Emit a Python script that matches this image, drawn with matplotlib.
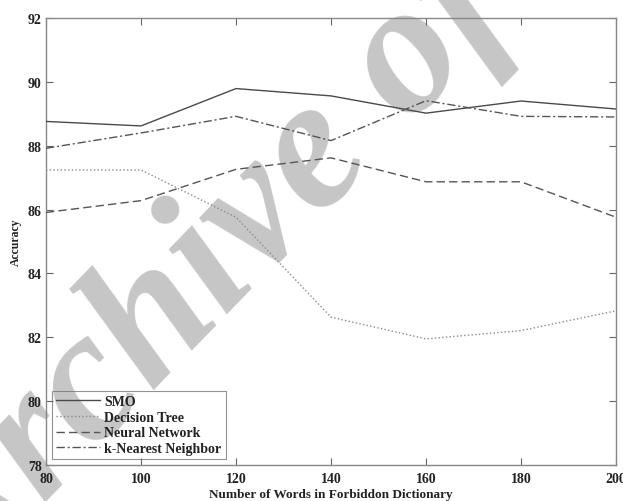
import matplotlib
matplotlib.use('Agg')
import matplotlib.pyplot as plt

words = [80, 100, 120, 140, 160, 180, 200]

smo = [88.76, 88.62, 89.79, 89.56, 89.02, 89.40, 89.15]
decision_tree = [87.24, 87.24, 85.76, 82.63, 81.95, 82.21, 82.83]
neural_net = [85.91, 86.28, 87.26, 87.62, 86.87, 86.87, 85.76]
knn = [87.92, 88.40, 88.92, 88.16, 89.41, 88.92, 88.90]

x_ticks = [80, 100, 120, 140, 160, 180, 200]
y_ticks = [78, 80, 82, 84, 86, 88, 90, 92]

plt.rcParams['font.family'] = ['Liberation Serif', 'DejaVu Serif']
plt.rcParams['font.weight'] = 'bold'

fig = plt.figure(figsize=(6.23, 5.02), dpi=100)
ax = fig.add_axes([46/623, 36/502, 570/623, 447/502])

# watermark, sits under everything
ax.text(0.533, 0.703, 'Archive of SID', transform=fig.transFigure, rotation=46,
        fontsize=135, fontstyle='italic', fontweight='bold', color='#c6c6c6',
        ha='center', va='center', zorder=0.5, clip_on=False)

ax.plot(words, smo, color='#4a4a4a', linestyle='-', linewidth=1.0, label='SMO', zorder=3)
ax.plot(words, decision_tree, color='#8a8a8a', linestyle=':', linewidth=1.0, label='Decision Tree', zorder=3)
ax.plot(words, neural_net, color='#555555', linestyle=(0, (6, 3)), linewidth=1.0, label='Neural Network', zorder=3)
ax.plot(words, knn, color='#555555', linestyle=(0, (6, 2, 1.5, 2)), linewidth=1.0, label='k-Nearest Neighbor', zorder=3)

ax.set_xlim(80, 200)
ax.set_ylim(78, 92)
ax.set_xticks(x_ticks)
ax.set_yticks(y_ticks)
ax.tick_params(direction='in', length=5, width=0.8, color='#666666', top=True, right=True,
               labelsize=10, labelcolor='#222222', pad=3)
ax.tick_params(axis='x', pad=5)
for s in ax.spines.values():
    s.set_color('#888888')
    s.set_linewidth(1.0)
ax.patch.set_alpha(0)

ax.set_xlabel('Number of Words in Forbiddon Dictionary', fontsize=9.5, fontweight='bold',
              color='#222222', labelpad=2)
ax.set_ylabel('Accuracy', fontsize=8.5, fontweight='bold', color='#222222', labelpad=4)

leg = ax.legend(loc='lower left', fontsize=10, frameon=True, fancybox=False,
                borderpad=0.3, labelspacing=0.2, handlelength=3.2, handletextpad=0.3,
                borderaxespad=0.4)
leg.get_frame().set_facecolor('none')
leg.get_frame().set_edgecolor('#777777')
leg.get_frame().set_linewidth(0.8)
for t in leg.get_texts():
    t.set_color('#222222')

fig.savefig('out.png', dpi=100)
